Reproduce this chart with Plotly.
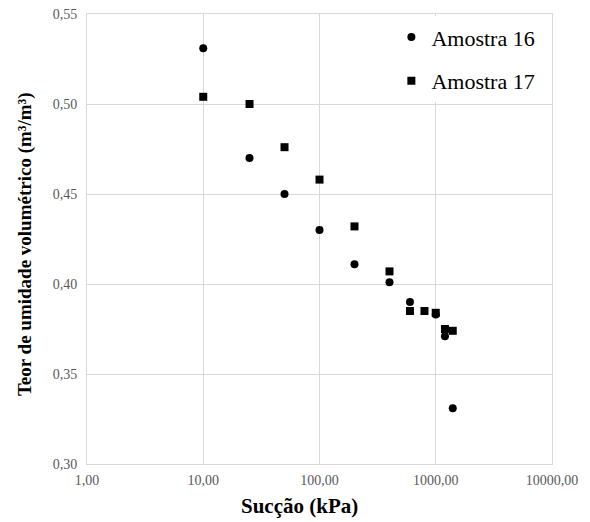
import plotly.graph_objects as go

# Data
suction_16 = [10, 25, 50, 100, 200, 400, 600, 1000, 1200, 1400]
theta_16 = [0.531, 0.470, 0.450, 0.430, 0.411, 0.401, 0.390, 0.383, 0.371, 0.331]

suction_17 = [10, 25, 50, 100, 200, 400, 600, 800, 1000, 1200, 1400]
theta_17 = [0.504, 0.500, 0.476, 0.458, 0.432, 0.407, 0.385, 0.385, 0.384, 0.375, 0.374]

x_tickvals = [1, 10, 100, 1000, 10000]
x_ticktext = ["1,00", "10,00", "100,00", "1000,00", "10000,00"]
y_tickvals = [0.30, 0.35, 0.40, 0.45, 0.50, 0.55]
y_ticktext = ["0,30", "0,35", "0,40", "0,45", "0,50", "0,55"]

x_title = "Sucção (kPa)"
y_title = "Teor de umidade volumétrico (m³/m³)"

SERIF = "Liberation Serif"
GRID = "#d9d9d9"

fig = go.Figure()
fig.add_trace(go.Scatter(
    x=suction_16, y=theta_16, mode="markers", name="Amostra 16",
    legendgroup="a16",
    marker=dict(symbol="circle", size=8, color="black"),
))
fig.add_trace(go.Scatter(
    x=suction_17, y=theta_17, mode="markers", name="Amostra 17",
    legendgroup="a17",
    marker=dict(symbol="square", size=8, color="black"),
))

fig.update_layout(
    width=590, height=522,
    margin=dict(l=87, r=38, t=14, b=58),
    paper_bgcolor="white", plot_bgcolor="white",
    font=dict(family=SERIF, color="black"),
    showlegend=True,
    legend=dict(
        x=0.975, y=0.995, xanchor="right", yanchor="top",
        bgcolor="white", borderwidth=0,
        font=dict(family=SERIF, size=22, color="black"),
        tracegroupgap=12,
        itemsizing="trace",
    ),
    xaxis=dict(
        type="log", range=[0, 4],
        tickvals=x_tickvals, ticktext=x_ticktext,
        tickfont=dict(family=SERIF, size=14, color="#595959"),
        showgrid=True, gridcolor=GRID, gridwidth=1,
        showline=True, linecolor=GRID, linewidth=1, mirror=True,
        ticks="outside", ticklen=3, tickcolor="white", zeroline=False,
        automargin=False,
    ),
    yaxis=dict(
        range=[0.30, 0.55],
        tickvals=y_tickvals, ticktext=y_ticktext,
        tickfont=dict(family=SERIF, size=14, color="#595959"),
        showgrid=True, gridcolor=GRID, gridwidth=1,
        showline=True, linecolor=GRID, linewidth=1, mirror=True,
        ticks="", zeroline=False, ticklabelstandoff=6,
        automargin=False,
    ),
    annotations=[
        dict(
            text="<b>" + x_title + "</b>", xref="paper", yref="paper",
            x=0.458, y=-0.093, xanchor="center", yanchor="middle",
            showarrow=False, font=dict(family=SERIF, size=21, color="black"),
        ),
        dict(
            text="<b>" + y_title + "</b>", xref="paper", yref="paper",
            x=-0.133, y=0.489, xanchor="center", yanchor="middle",
            textangle=-90,
            showarrow=False, font=dict(family=SERIF, size=19, color="black"),
        ),
    ],
)

fig.write_html("out.html")
